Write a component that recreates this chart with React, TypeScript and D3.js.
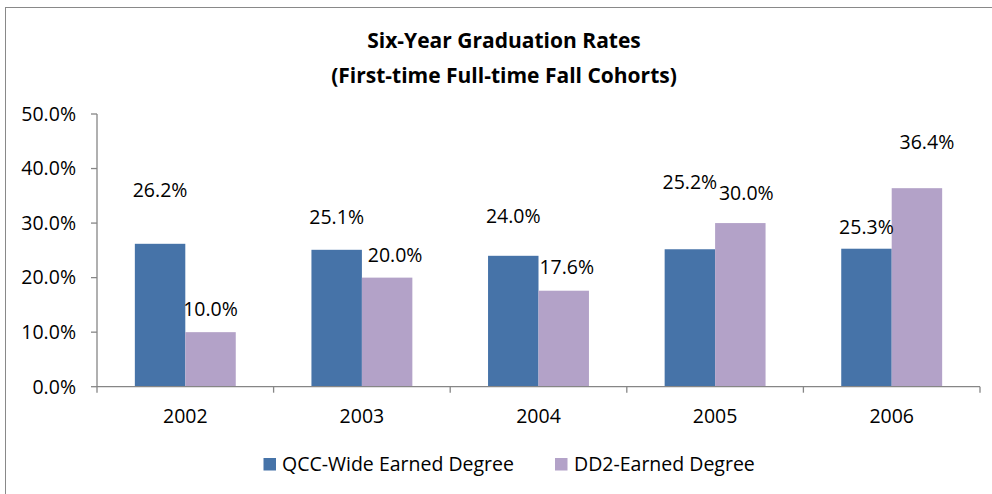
import { useMemo } from 'react';
import * as d3 from 'd3';

const years = ['2002', '2003', '2004', '2005', '2006'];
const seriesNames = ['QCC-Wide Earned Degree', 'DD2-Earned Degree'];
const qccWide = [26.2, 25.1, 24.0, 25.2, 25.3];
const dd2Earned = [10.0, 20.0, 17.6, 30.0, 36.4];
const yTicks = [0, 10, 20, 30, 40, 50];

// labels were dragged by hand in the original, nudges in px (dx, lift above bar top)
const labelDx = [[0, 0, 0, 0, 0], [0, 8, 3, 6, 10]];
const labelLift = [[47, 26, 33, 60, 15], [16, 16, 17, 23, 39]];

const colors = ['#4673A8', '#B3A2C8'];
const FONT = '"Open Sans", sans-serif';

export default function App() {
    const width = 992;
    const height = 494;
    const left = 97;
    const right = 980;
    const baseY = 386.7;
    const topY = 114;

    const { x0, x1, y } = useMemo(() => {
        const x0 = d3.scaleBand<string>().domain(years).range([left, right]).padding(0);
        const x1 = d3.scaleBand<number>()
            .domain([0, 1])
            .range([0, x0.bandwidth()])
            .paddingInner(0)
            .paddingOuter(0.75);
        const y = d3.scaleLinear().domain([0, 50]).range([baseY, topY]);
        return { x0, x1, y };
    }, []);

    const series = [qccWide, dd2Earned];
    const fontSize = 19.5;

    return (
        <div style={{ position: 'absolute', left: 0, top: 0 }}>
            <svg width={width} height={height} style={{ display: 'block', background: '#fff' }} fontFamily={FONT}>
                <rect x={5.5} y={7.5} width={width + 20} height={height + 20} fill="#fff" stroke="#898989" strokeWidth={1} />

                {/* title */}
                <text x={504} y={48} textAnchor="middle" fontWeight={700} fontSize={21} fill="#000">
                    Six-Year Graduation Rates
                </text>
                <text x={504} y={83} textAnchor="middle" fontWeight={700} fontSize={21} fill="#000">
                    (First-time Full-time Fall Cohorts)
                </text>

                {/* y axis */}
                <line x1={left} x2={left} y1={topY} y2={baseY} stroke="#868686" strokeWidth={1.3} />
                {yTicks.map((t) => (
                    <g key={t}>
                        <line x1={left - 6} x2={left} y1={y(t)} y2={y(t)} stroke="#868686" strokeWidth={1.3} />
                        <text x={76} y={y(t)} dy="0.35em" textAnchor="end" fontSize={fontSize} fill="#000">
                            {t.toFixed(1)}%
                        </text>
                    </g>
                ))}

                {/* bars */}
                {series.map((vals, si) => (
                    <g key={si}>
                        {vals.map((v, i) => (
                            <rect
                                key={years[i]}
                                x={(x0(years[i]) ?? 0) + (x1(si) ?? 0)}
                                y={y(v)}
                                width={x1.bandwidth()}
                                height={baseY - y(v)}
                                fill={colors[si]}
                            />
                        ))}
                    </g>
                ))}

                {/* value labels */}
                {series.map((vals, si) => (
                    <g key={'l' + si}>
                        {vals.map((v, i) => (
                            <text
                                key={years[i]}
                                x={(x0(years[i]) ?? 0) + (x1(si) ?? 0) + x1.bandwidth() / 2 + labelDx[si][i]}
                                y={y(v) - labelLift[si][i]}
                                textAnchor="middle"
                                fontSize={fontSize}
                                fill="#000"
                            >
                                {v.toFixed(1)}%
                            </text>
                        ))}
                    </g>
                ))}

                {/* x axis */}
                <line x1={left} x2={right} y1={baseY} y2={baseY} stroke="#868686" strokeWidth={1.3} />
                {[...years.map((yr) => x0(yr) ?? 0), right].map((bx, i) => (
                    <line key={i} x1={bx} x2={bx} y1={baseY} y2={baseY + 6} stroke="#868686" strokeWidth={1.3} />
                ))}
                {years.map((yr) => (
                    <text key={yr} x={(x0(yr) ?? 0) + x0.bandwidth() / 2} y={423} textAnchor="middle" fontSize={fontSize} fill="#000">
                        {yr}
                    </text>
                ))}

                {/* legend */}
                <g>
                    <rect x={263.5} y={458} width={12.5} height={12.5} fill={colors[0]} />
                    <text x={282} y={471} fontSize={fontSize} fill="#000">{seriesNames[0]}</text>
                    <rect x={555} y={458} width={12.5} height={12.5} fill={colors[1]} />
                    <text x={574} y={471} fontSize={fontSize} fill="#000">{seriesNames[1]}</text>
                </g>
            </svg>
        </div>
    );
}
